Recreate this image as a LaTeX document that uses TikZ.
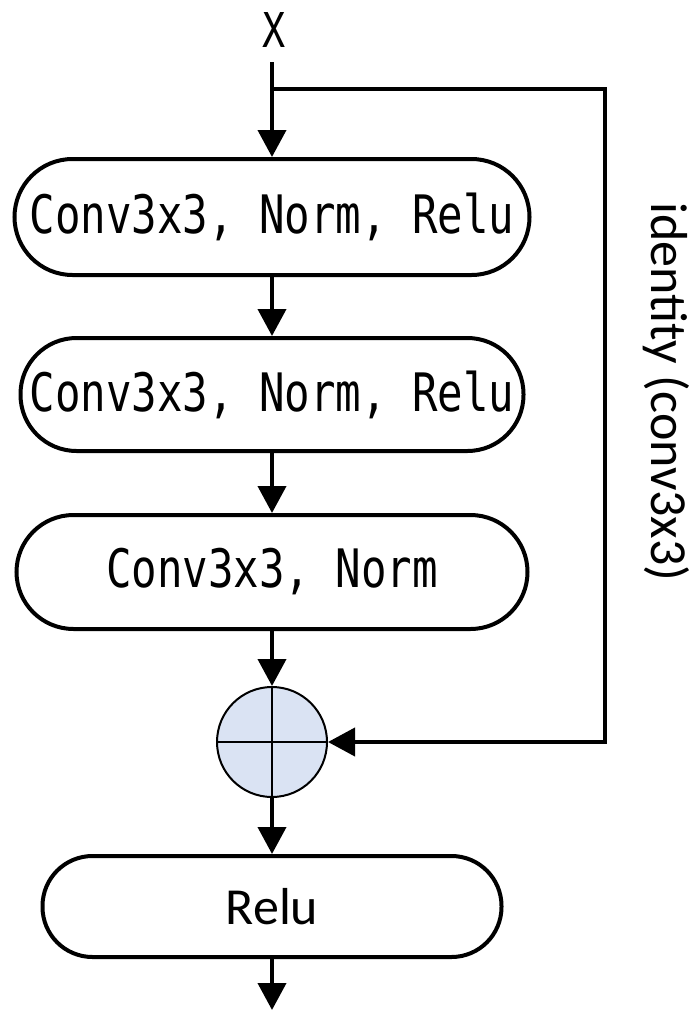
\documentclass[tikz,border=0pt]{standalone}
\usepackage{fontspec}
\usetikzlibrary{arrows.meta}
\newfontfamily\gothic[FakeStretch=0.8]{DejaVu Sans Mono}
\newfontfamily\calib{Carlito}
\definecolor{sumfill}{HTML}{DAE3F3}
\tikzset{
  blockbox/.style={draw, line width=2pt, rounded corners=#1, inner sep=0pt,
    font=\gothic\fontsize{26.5}{30}\selectfont},
  flow/.style={line width=2pt, -{Triangle[length=13.5pt,width=14pt]}},
  sumnode/.style={circle, draw, line width=1pt, fill=sumfill, minimum size=55pt, inner sep=0pt},
}
\begin{document}
\begin{tikzpicture}[x=0.5pt, y=-0.5pt]
  \useasboundingbox (0,0) rectangle (694,1012);

  % input label and block stack
  \node[font=\gothic\fontsize{24}{26}\selectfont] (xin) at (274,30) {X};
  \coordinate (top) at (272,62);
  \coordinate (split) at (272,89);
  \coordinate (corner) at (605,89);

  \node[blockbox=29pt, minimum width=257.5pt, minimum height=58pt] (b1) at (272,217) {Conv3x3, Norm, Relu};
  \node[blockbox=28pt, minimum width=251.5pt, minimum height=56.5pt] (b2) at (272,394.5) {Conv3x3, Norm, Relu};
  \node[blockbox=28.5pt, minimum width=255.5pt, minimum height=57pt] (b3) at (272,572) {Conv3x3, Norm};
  \node[sumnode] (sum) at (272,742) {};
  \draw[line width=1pt] (sum.north) -- (sum.south) (sum.west) -- (sum.east);
  \node[draw, line width=2pt, rounded corners=25pt, minimum width=229.5pt, minimum height=50.5pt,
        inner sep=0pt, font=\calib\fontsize{26}{30}\selectfont] (relu) at (272,906.5) {Relu};
  \coordinate (out) at (272,1010);

  % main path
  \draw[flow] (top) -- (b1.north);
  \draw[flow] (b1.south) -- (b2.north);
  \draw[flow] (b2.south) -- (b3.north);
  \draw[flow] (b3.south) -- (sum.north);
  \draw[flow] (sum.south) -- (relu.north);
  \draw[flow] (relu.south) -- (out);

  % shortcut branch
  \draw[flow] (split) -- (corner) |- (sum.east);
  \node[rotate=-90, font=\calib\fontsize{26}{30}\selectfont] (idlabel) at (666,392) {identity (conv3x3)};
\end{tikzpicture}
\end{document}
